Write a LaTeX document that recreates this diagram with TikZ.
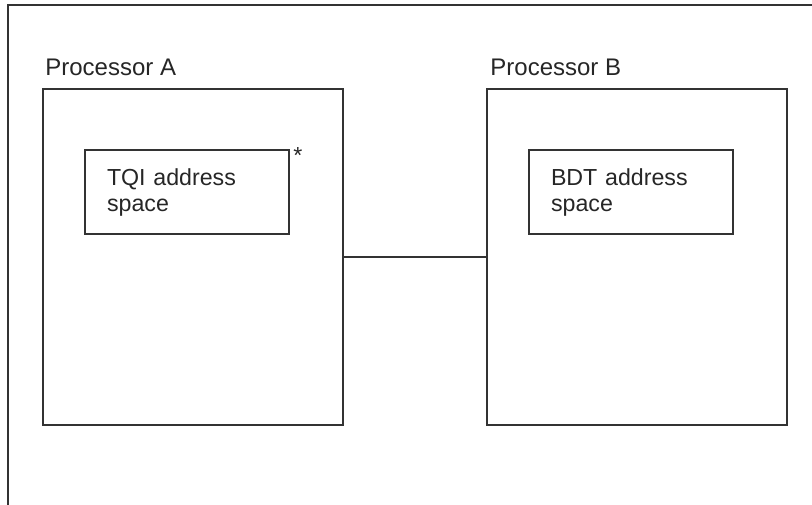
\documentclass[tikz,border=0pt]{standalone}
\usepackage{fontspec}
\setmainfont{Liberation Sans}
\usepackage{tikz}
\tikzset{
    every node/.style={font=\fontsize{11.6}{13}\selectfont, text=black!85}
}
\tikzset{
    box/.style={draw=black!80, line width=.75pt, rectangle, minimum width=150pt,
    	minimum height=168pt, inner sep=0pt}
}
\tikzset{
    space/.style={draw=black!80, line width=.6pt, rectangle, align=left,
    	text width=80pt, inner xsep=11pt, inner ysep=0pt, minimum height=42pt}
}
\tikzset{
    title/.style={anchor=base west, inner sep=0pt, font=\fontsize{12}{14}\selectfont}
}
\tikzset{
    every edge/.append style={line width=.75pt, draw=black!80}
}

\begin{document}
\begin{tikzpicture}[x=.5pt, y=-.5pt]
  \useasboundingbox (0,0) rectangle (812,504);
  \coordinate (fbl) at (8,510);
  \coordinate (ftl) at (8,5);
  \coordinate (ftr) at (815,5);
  \draw[line width=.75pt, black!80] (fbl) -- (ftl) -- (ftr);

  \node (procA) [box] at (193,257) {};
  \node (procB) [box] at (637,257) {};
  \node (labA) [title] at (45,75) {Processor A};
  \node (labB) [title] at (490,75) {Processor B};

  \node (tqi) [space] at (187,192) {TQI address\\space};
  \node (bdt) [space] at (631,192) {BDT address\\space};
  \node (star) [anchor=base, inner sep=0pt] at (298,163) {*};

  \draw (procA) edge (procB);
\end{tikzpicture}
\end{document}
